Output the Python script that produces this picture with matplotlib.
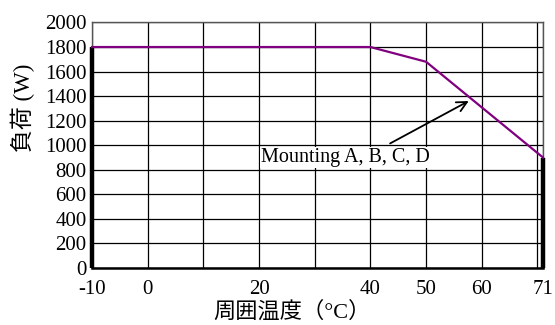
import matplotlib
matplotlib.use('Agg')
import matplotlib.pyplot as plt

plt.rcParams['font.family'] = ['Liberation Serif', 'Noto Sans CJK JP']
plt.rcParams['axes.unicode_minus'] = False

# derating curve
temp = [-10, 40, 50, 71]
load = [1800, 1800, 1680, 900]

x_ticks = [-10, 0, 20, 40, 50, 60, 71]
x_grid = [-10, 0, 10, 20, 30, 40, 50, 60, 70]
y_ticks = list(range(0, 2001, 200))

label_text = 'Mounting A, B, C, D'
label_pos = (20.3, 900)
arrow_tail = (43.1, 1004)
arrow_head = (58.1, 1371)

fig = plt.figure(figsize=(5.55, 3.25), dpi=100)
ax = fig.add_axes([0.1658, 0.1754, 0.8126, 0.7554])

ax.set_xlim(-10, 71)
ax.set_ylim(0, 2000)
ax.set_xticks(x_ticks)
ax.set_xticks(x_grid, minor=True)
ax.set_yticks(y_ticks)
ax.grid(True, which='both', color='black', linewidth=0.9)
ax.tick_params(which='both', length=0, labelsize=15)
ax.tick_params(axis='x', pad=9)
ax.tick_params(axis='y', pad=4)
ax.set_axisbelow(True)

for s in ax.spines.values():
    s.set_color('#555555')
    s.set_linewidth(1.0)
ax.spines['bottom'].set_color('black')
ax.spines['bottom'].set_linewidth(1.8)

# operating range bars
ax.vlines(temp[0], 0, load[0], color='black', linewidth=3.2, clip_on=False, zorder=4)
ax.vlines(temp[-1], 0, load[-1], color='black', linewidth=3.2, clip_on=False, zorder=4)

ax.plot(temp, load, color='#800080', linewidth=1.6, zorder=5, clip_on=False)

ax.text(label_pos[0], label_pos[1], label_text, fontsize=14.5, va='center', ha='left',
        bbox=dict(facecolor='white', edgecolor='none', pad=0.5), zorder=3)
ax.annotate('', xy=arrow_head, xytext=arrow_tail,
            arrowprops=dict(arrowstyle='->', color='black', lw=1.3, mutation_scale=18),
            zorder=6)

fig.text(292 / 555, 1 - 312 / 325, '周囲温度（°C）', fontsize=16, ha='center', va='center')
fig.text(23 / 555, 1 - 108 / 325, '負荷 (W)', fontsize=16.5, ha='center', va='center',
         rotation=90)

fig.savefig('out.png', dpi=100)
